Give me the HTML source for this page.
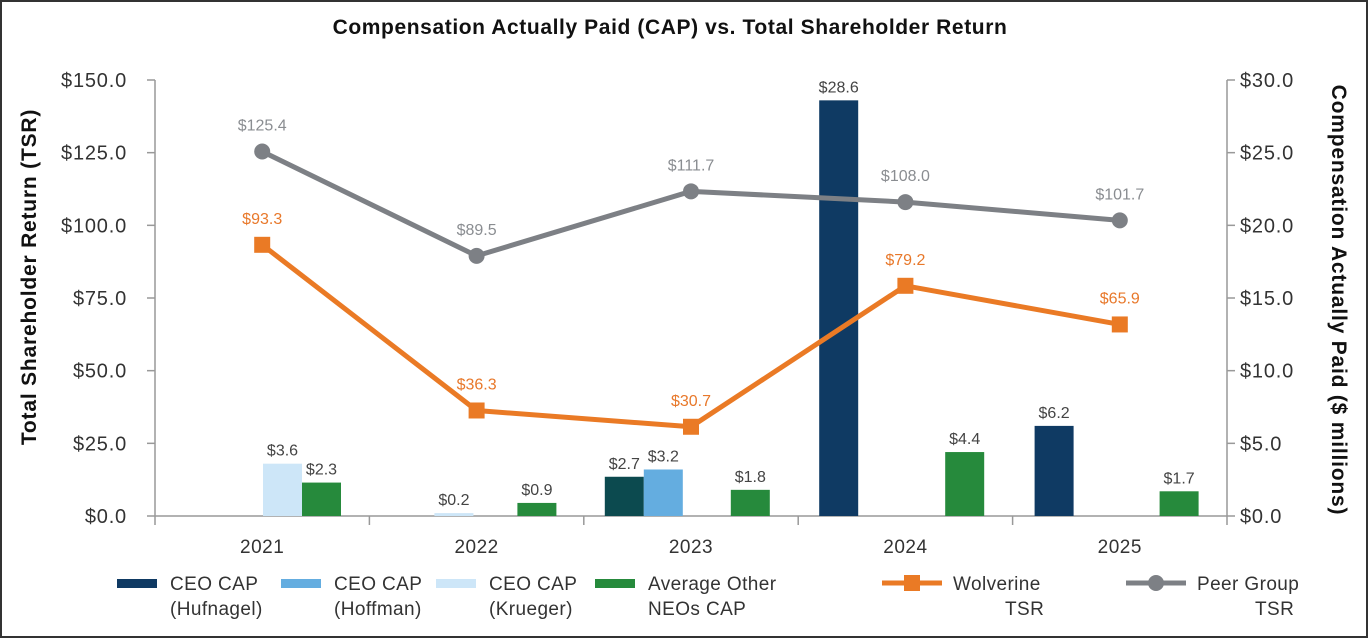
<!DOCTYPE html>
<html><head><meta charset="utf-8"><style>
body{margin:0;background:#fff;}
svg{display:block;font-family:"Liberation Sans",sans-serif;}
</style></head><body>
<svg id="chart" width="1368" height="638">
<rect x="1" y="1" width="1366" height="636" fill="#fff" stroke="#333" stroke-width="2"/>
<text x="670" y="34" text-anchor="middle" font-size="21" font-weight="bold" letter-spacing="0.6" fill="#111">Compensation Actually Paid (CAP) vs. Total Shareholder Return</text>
<text transform="translate(36,277) rotate(-90)" text-anchor="middle" font-size="21" font-weight="bold" letter-spacing="0.8" fill="#111">Total Shareholder Return (TSR)</text>
<text transform="translate(1332,300) rotate(90)" text-anchor="middle" font-size="21" font-weight="bold" letter-spacing="0.8" fill="#111">Compensation Actually Paid ($ millions)</text>
<g id="g"></g>
</svg>
<script>
const categories=["2021","2022","2023","2024","2025"];
const hufnagel=[null,null,2.7,28.6,6.2];
const hoffman=[null,null,3.2,null,null];
const krueger=[3.6,0.2,null,null,null];
const avgNeo=[2.3,0.9,1.8,4.4,1.7];
const wolverine=[93.3,36.3,30.7,79.2,65.9];
const peer=[125.4,89.5,111.7,108.0,101.7];
const leftTicks=[0,25,50,75,100,125,150];
const rightTicks=[0,5,10,15,20,25,30];

const NS="http://www.w3.org/2000/svg";
const g=document.getElementById('g');
const X0=155,X1=1227,Y0=516,Y1=80,BW=39;
const step=(X1-X0)/categories.length;
const yL=v=>Y0-(v/150)*(Y0-Y1);
const yR=v=>Y0-(v/30)*(Y0-Y1);
const cx=i=>X0+step*(i+0.5);
function mk(t,a,txt){const e=document.createElementNS(NS,t);for(const k in a)e.setAttribute(k,a[k]);if(txt!=null)e.textContent=txt;g.appendChild(e);return e;}

let e=mk('line',{x1:X0,y1:Y1,x2:X0,y2:Y0,stroke:'#999','stroke-width':1.5});


e=mk('line',{x1:X1,y1:Y1,x2:X1,y2:Y0,stroke:'#999','stroke-width':1.5});


e=mk('line',{x1:X0,y1:Y0,x2:X1,y2:Y0,stroke:'#999','stroke-width':1.5});


for(let i=0;i<=categories.length;i++){
  e=mk('line',{x1:X0+step*i,y1:Y0,x2:X0+step*i,y2:Y0+9,stroke:'#999','stroke-width':1.5});
  
  
}
leftTicks.forEach(v=>{
  e=mk('line',{x1:X0-8,y1:yL(v),x2:X0,y2:yL(v),stroke:'#999','stroke-width':1.5});
  
  
  e=mk('text',{x:127,y:yL(v)+7,'text-anchor':'end','font-size':20,'letter-spacing':0.8,fill:'#333'},'$'+v.toFixed(1));
  
  
});
rightTicks.forEach(v=>{
  e=mk('line',{x1:X1,y1:yR(v),x2:X1+8,y2:yR(v),stroke:'#999','stroke-width':1.5});
  
  
  e=mk('text',{x:1240,y:yR(v)+7,'font-size':20,'letter-spacing':0.8,fill:'#333'},'$'+v.toFixed(1));
  
  
});
categories.forEach((c,i)=>{
  e=mk('text',{x:cx(i),y:553,'text-anchor':'middle','font-size':19,'letter-spacing':0.5,fill:'#333'},c);
  
  
});

const series=[
 {d:hufnagel,col:'#0f3a63',name:'hufnagel',off:[21,21,21,21,22]},
 {d:hoffman,col:'#64ade0',name:'hoffman',off:[60,60,60,60,60]},
 {d:krueger,col:'#cde6f8',name:'krueger',off:[108,65,99,99,99]},
 {d:avgNeo,col:'#268a3c',name:'avg-neo',off:[147,148,147,147,147]}
];
series.forEach(s=>{
  s.d.forEach((v,i)=>{
    if(v==null)return;
    const x=X0+step*i+s.off[i];
    let col=s.col;
    if(s.name==='hufnagel'&&i===2)col='#0c4a4f';
    e=mk('rect',{x:x,y:yR(v),width:BW,height:Y0-yR(v),fill:col});
    
    
    e=mk('text',{x:x+BW/2,y:yR(v)-8,'text-anchor':'middle','font-size':16,fill:'#444'},'$'+v.toFixed(1));
    
    
  });
});

function line(data,col,name,marker){
  const pts=data.map((v,i)=>cx(i)+','+yL(v)).join(' ');
  e=mk('polyline',{points:pts,fill:'none',stroke:col,'stroke-width':5,'stroke-linejoin':'round'});
  
  
  data.forEach((v,i)=>{
    if(marker==='sq') e=mk('rect',{x:cx(i)-8,y:yL(v)-8,width:16,height:16,fill:col});
    else e=mk('circle',{cx:cx(i),cy:yL(v),r:8,fill:col});
    
    
    e=mk('text',{x:cx(i),y:yL(v)-21,'text-anchor':'middle','font-size':16,fill:marker==='sq'?'#e8782a':'#8a8d91'},'$'+v.toFixed(1));
    
    
  });
}
line(peer,'#7d8085','peer-tsr','ci');
line(wolverine,'#ea7a25','wolverine-tsr','sq');

const legend=[
 {x:117,col:'#0f3a63',t1:'CEO CAP',t2:'(Hufnagel)',k:'bar'},
 {x:281,col:'#64ade0',t1:'CEO CAP',t2:'(Hoffman)',k:'bar'},
 {x:436,col:'#cde6f8',t1:'CEO CAP',t2:'(Krueger)',k:'bar'},
 {x:595,col:'#268a3c',t1:'Average Other',t2:'NEOs CAP',k:'bar'},
 {x:882,col:'#ea7a25',t1:'Wolverine',t2:'TSR',k:'sq'},
 {x:1126,col:'#7d8085',t1:'Peer Group',t2:'TSR',k:'ci'}
];
legend.forEach(L=>{
  if(L.k==='bar'){
    e=mk('rect',{x:L.x,y:579,width:40,height:9,fill:L.col});
  } else {
    e=mk('line',{x1:L.x,y1:583,x2:L.x+60,y2:583,stroke:L.col,'stroke-width':5});
    if(L.k==='sq') mk('rect',{x:L.x+22,y:575,width:16,height:16,fill:L.col});
    else mk('circle',{cx:L.x+30,cy:583,r:8,fill:L.col});
  }
  
  
  const tx=L.k==='bar'?L.x+53:L.x+71;
  e=mk('text',{x:tx,y:590,'font-size':19,'letter-spacing':0.4,fill:'#333'},L.t1);
  
  
  e=mk('text',{x:L.k==='bar'?tx:tx+(L.t1==='Wolverine'?52:58),y:615,'font-size':19,'letter-spacing':0.4,fill:'#333'},L.t2);
  
  
});
</script>
</body></html>
